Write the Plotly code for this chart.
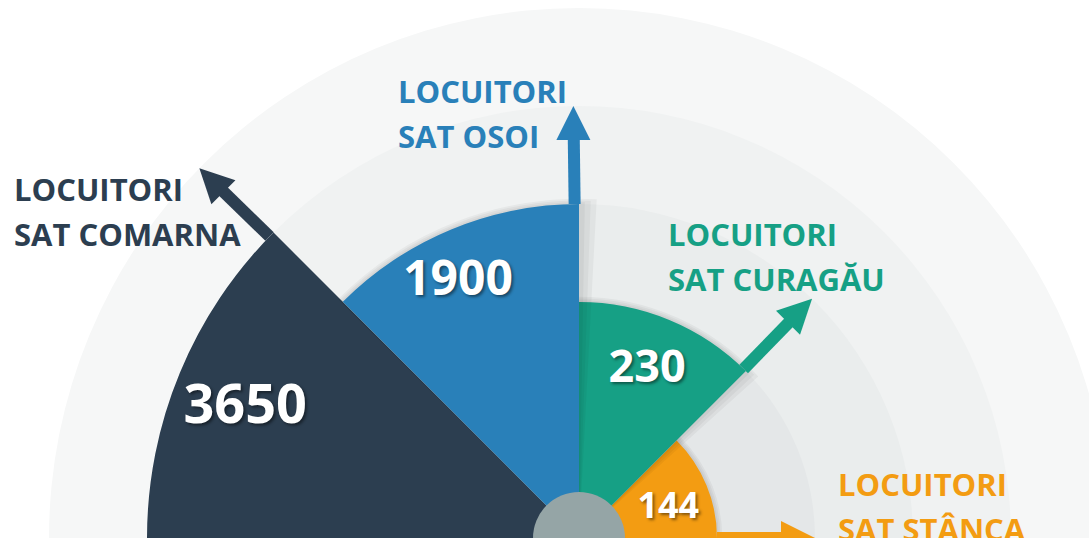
import numpy as np
import plotly.graph_objects as go

# ---------------- data ----------------
villages = ["COMARNA", "OSOI", "CURAGĂU", "STÂNCA"]
residents = [3650, 1900, 230, 144]
label_prefix = "LOCUITORI"
label_sat = "SAT"

# ---------------- style ----------------
colors = ["#2c3e50", "#2980b9", "#16a085", "#f39c12"]
ring_colors = ["#f6f7f7", "#f0f2f2", "#eaeded", "#e4e7e8"]  # outer -> inner
center_color = "#95a5a6"
value_font_sizes = [54, 48, 45, 36]
value_r_offset = [0.76, 0.53, 0.57, 0.45]      # placement inside wedge (rank units)
value_theta_offset = [1.5, 2.9, 0.3, -4.5]
label_left_px = [13, 397, 667, 837]
label_base_px = [200, 102, 245, 495]
label_font = 31
label_gap = 45
FONT = "Open Sans"

VIEW_W, H = 1089, 538
n = len(residents)

# ordinal radial scale: rank 1 = smallest value
order = np.argsort(residents)
rank = np.empty(n, dtype=int)
rank[order] = np.arange(1, n + 1)

sector_w = 180.0 / n
theta_c = [180 - sector_w * (i + 0.5) for i in range(n)]
theta_edge = [180 - sector_w * (i + 1) for i in range(n)]

# polar geometry (pixels)
R_PX = 538
CX = 579
W = CX + R_PX            # figure a bit wider than the view; right part is cropped
step_px, base_px = 98.0, 40.0
rmin = -base_px / step_px
rmax = rmin + R_PX / step_px

fig = go.Figure()

# background rings
ring_ranks = list(range(n + 1, 1, -1))
for rr, col in zip(ring_ranks, ring_colors):
    fig.add_trace(go.Barpolar(r=[rr], theta=[90], width=[180], base=0,
                              marker=dict(color=col, line=dict(width=0)),
                              hoverinfo="skip", showlegend=False))

# wedges (z order: dark, orange, teal, blue) with soft shadows
z_order = [0, 3, 2, 1]
for i in z_order:
    if i != 0:
        for k in (3, 2, 1):
            fig.add_trace(go.Barpolar(
                r=[rank[i] + 0.018 * k], theta=[theta_c[i] - 0.45 * k],
                width=[sector_w + 1.1 * k], base=0,
                marker=dict(color="rgba(0,0,0,0.04)", line=dict(width=0)),
                hoverinfo="skip", showlegend=False))
    fig.add_trace(go.Barpolar(
        r=[rank[i]], theta=[theta_c[i]], width=[sector_w], base=0,
        marker=dict(color=colors[i], line=dict(width=0)),
        name=villages[i], hovertemplate=f"{villages[i]}: {residents[i]}<extra></extra>",
        showlegend=False))

# arrows along each wedge's clockwise edge
for i in range(n):
    th = theta_edge[i] + (0.75 if i < n - 1 else 0.0)
    fig.add_trace(go.Scatterpolar(
        r=[rank[i], rank[i] + 0.8], theta=[th, th], mode="lines",
        line=dict(color=colors[i], width=12),
        cliponaxis=False, hoverinfo="skip", showlegend=False))
    fig.add_trace(go.Scatterpolar(
        r=[rank[i] + 1], theta=[th], mode="markers", opacity=1,
        marker=dict(symbol="arrow-up", size=34, color=colors[i], opacity=1,
                    angle=90 - theta_edge[i], angleref="up", line=dict(width=0)),
        cliponaxis=False, hoverinfo="skip", showlegend=False))

# centre disc
fig.add_trace(go.Scatterpolar(
    r=[rmin + 1e-9], theta=[90], mode="markers",
    marker=dict(size=92, color=center_color, line=dict(width=0), opacity=1),
    cliponaxis=False, hoverinfo="skip", showlegend=False))

# value labels
fig.add_trace(go.Scatterpolar(
    r=[rank[i] - value_r_offset[i] for i in range(n)],
    theta=[theta_c[i] + value_theta_offset[i] for i in range(n)],
    mode="text", text=[str(v) for v in residents],
    textposition="middle center",
    textfont=dict(family=FONT, size=value_font_sizes, color="white", weight=700,
                  shadow="2px 2px 3px rgba(0,0,0,0.45)"),
    cliponaxis=False, hoverinfo="skip", showlegend=False))

# category labels
annotations = []
for i in range(n):
    lines = [label_prefix, f"{label_sat} {villages[i]}"]
    for j, t in enumerate(lines):
        base = label_base_px[i] + j * label_gap
        ymid = base - 0.36 * label_font
        annotations.append(dict(
            text=t, x=label_left_px[i] / W, y=1 - ymid / H,
            xref="paper", yref="paper", xanchor="left", yanchor="middle",
            showarrow=False, borderpad=0,
            font=dict(family=FONT, size=label_font, color=colors[i], weight=700)))

fig.update_layout(
    width=W, height=H, margin=dict(l=0, r=0, t=0, b=0),
    paper_bgcolor="white", plot_bgcolor="white",
    showlegend=False,
    annotations=annotations,
    polar=dict(
        domain=dict(x=[(CX - R_PX) / W, 1], y=[0, 1]),
        sector=[0, 180], hole=0,
        bgcolor="rgba(0,0,0,0)",
        barmode="overlay", bargap=0,
        radialaxis=dict(range=[rmin, rmax], visible=False, showgrid=False),
        angularaxis=dict(visible=False, showgrid=False, rotation=0,
                         direction="counterclockwise"),
    ),
)

fig.write_html(
    "out.html",
    config={"displayModeBar": False},
    post_script=("document.documentElement.style.overflow='hidden';"
                 "document.body.style.margin='0';"
                 "document.body.style.overflow='hidden';"),
)
